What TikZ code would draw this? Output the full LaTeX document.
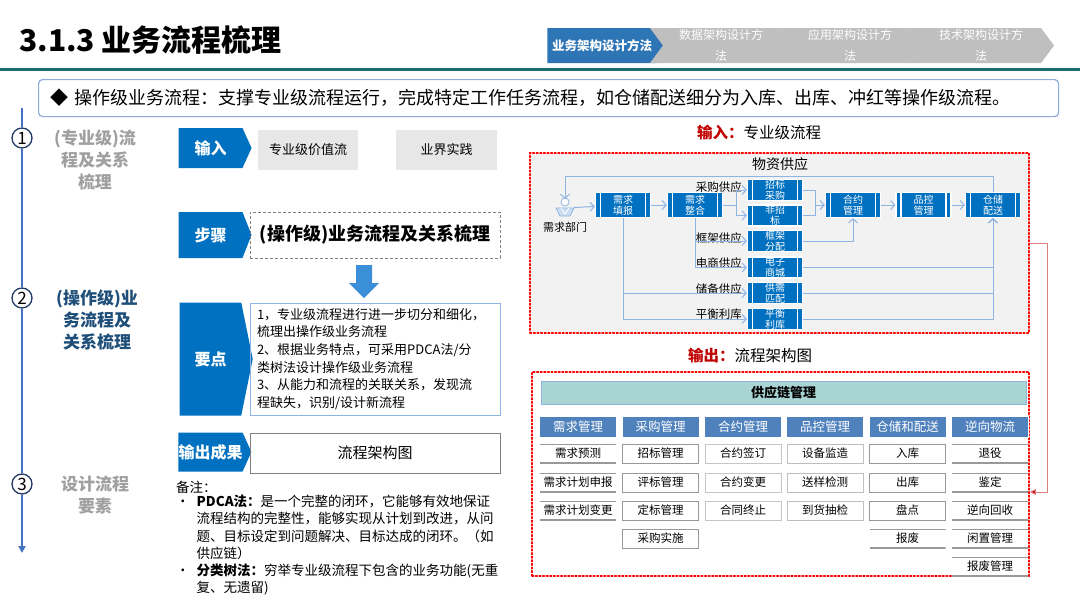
\documentclass[tikz,border=0pt]{standalone}
\usepackage{fontspec}
\setmainfont{Noto Sans CJK SC}
\usepackage{xcolor}
\definecolor{hdblue}{RGB}{46,117,182}
\definecolor{tabgray}{RGB}{191,191,191}
\definecolor{pgteal}{RGB}{30,110,105}
\definecolor{tagblue}{RGB}{0,112,192}
\definecolor{lineblue}{RGB}{68,114,196}
\definecolor{darknavy}{RGB}{32,56,100}
\definecolor{flowblue}{RGB}{143,180,227}
\definecolor{boxgray}{RGB}{231,231,231}
\definecolor{panelgray}{RGB}{242,242,242}
\definecolor{colblue}{RGB}{79,129,189}
\definecolor{barteal}{RGB}{168,212,212}
\definecolor{dotred}{RGB}{255,0,0}
\definecolor{textred}{RGB}{192,0,0}
\definecolor{labgray}{RGB}{160,160,160}
\definecolor{labblue}{RGB}{31,78,121}
\definecolor{infoblue}{RGB}{143,170,220}
\definecolor{arrblue}{RGB}{58,143,216}
\usepackage{tikz}
\usetikzlibrary{arrows.meta, positioning, shapes.symbols, calc}

\newcommand{\setfs}[2]{\fontsize{#1}{#2}\selectfont}

\tikzset{
  flow/.style={draw=flowblue, line width=1pt, -{Straight Barb[length=4pt,width=9pt]}},
  flowline/.style={draw=flowblue, line width=1pt},
  procbox/.style={fill=tagblue, draw=white, line width=1.5pt, minimum width=55, minimum height=21,
    inner sep=0, text=white, font=\setfs{10}{11}, align=center,
    path picture={\draw[white, line width=1.2pt]
      ([xshift=5pt]path picture bounding box.north west) -- ([xshift=5pt]path picture bounding box.south west)
      ([xshift=-5pt]path picture bounding box.north east) -- ([xshift=-5pt]path picture bounding box.south east);}},
  flowlab/.style={anchor=east, inner sep=0, font=\setfs{11.5}{12}},
  tag/.style={signal, signal to=east, fill=tagblue, text=white, font=\setfs{16}{18}\bfseries,
    minimum width=73, inner sep=0},
  tab/.style={signal, signal to=east, minimum height=35, inner sep=0, text=white, align=center,
    signal pointer angle=107},
  redbox/.style={draw=dotred, dotted, line width=1.6pt, line cap=round, inner sep=0},
  colhead/.style={fill=colblue, draw=white, minimum width=77, minimum height=21, inner sep=0,
    text=white, font=\setfs{12.5}{13}},
  itembox/.style={draw=gray!80, fill=white, line width=0.9pt, minimum width=76, minimum height=19,
    inner sep=0, font=\setfs{11.5}{12}},
  itemline/.style={minimum width=76, minimum height=19, inner sep=0, font=\setfs{11.5}{12},
    path picture={\draw[gray!80, line width=2pt]
      (path picture bounding box.north west) -- (path picture bounding box.north east)
      (path picture bounding box.south west) -- (path picture bounding box.south east);}},
  steplab/.style={align=center, font=\setfs{17}{22}\bfseries},
  numc/.style={circle, draw=darknavy, fill=white, line width=1.3pt, minimum size=20, inner sep=0,
    font=\setfs{17}{17}}
}

\begin{document}
\begin{tikzpicture}[x=1pt, y=-1pt]
  \useasboundingbox (0,0) rectangle (1080,608);

  % --- Header ---
  \node[anchor=west, inner sep=0, font=\setfs{30}{32}\bfseries] (title) at (19,40) {3.1.3 业务流程梳理};
  \node[tab, fill=hdblue, minimum width=122, font=\setfs{12.5}{13}\bfseries] (tab1) at (602,45.5) {业务架构设计方法};
  \node[tab, signal from=west, fill=tabgray, minimum width=142, font=\setfs{12}{21}] (tab2) at (721,45.5) {数据架构设计方\\法};
  \node[tab, signal from=west, fill=tabgray, minimum width=142, font=\setfs{12}{21}] (tab3) at (850,45.5) {应用架构设计方\\法};
  \node[tab, signal from=west, fill=tabgray, minimum width=146, font=\setfs{12}{21}] (tab4) at (981,45.5) {技术架构设计方\\法};
  \draw[pgteal, line width=3pt] (0,69.5) -- (1080,69.5);

  % info banner
  \node[draw=infoblue, line width=1.2pt, rounded corners=4pt, anchor=north west, minimum width=1020,
    minimum height=37, text width=996, inner xsep=12, align=left, font=\setfs{18}{20}] (info) at (38,79)
    {◆ 操作级业务流程：支撑专业级流程运行，完成特定工作任务流程，如仓储配送细分为入库、出库、冲红等操作级流程。};

  % --- Left timeline ---
  \coordinate (tlbot) at (22,553);
  \node[numc] (n1) at (22,138) {1};
  \node[numc] (n2) at (22,298) {2};
  \node[numc] (n3) at (22,484) {3};
  \draw[lineblue, line width=1.8pt] (22,108) -- (n1);
  \draw[lineblue, line width=1.8pt] (n1) -- (n2);
  \draw[lineblue, line width=1.8pt] (n2) -- (n3);
  \draw[lineblue, line width=1.8pt, -{Triangle[length=7pt,width=7pt]}] (n3) -- (tlbot);
  \node[steplab, labgray] (s1) at (95,160) {(专业级)流\\程及关系\\梳理};
  \node[steplab, labblue] (s2) at (97,320) {(操作级)业\\务流程及\\关系梳理};
  \node[steplab, labgray] (s3) at (95,495) {设计流程\\要素};

  % --- Middle column ---
  \node[tag, minimum height=40, signal pointer angle=131] (in) at (210.5,148) {输入};
  \node[fill=boxgray, minimum width=100, minimum height=40, inner sep=0, font=\setfs{13}{14}] (val) at (308,150) {专业级价值流};
  \node[fill=boxgray, minimum width=101, minimum height=40, inner sep=0, font=\setfs{13}{14}] (prac) at (446.5,150) {业界实践};

  \node[tag, minimum height=46, signal pointer angle=137] (step) at (210.5,235) {步骤};
  \node[draw=gray, densely dashed, minimum width=250, minimum height=46, inner sep=0,
    font=\setfs{18}{20}\bfseries] (stepbox) at (375,235) {(操作级)业务流程及关系梳理};
  \fill[arrblue] (356,265) -- (372,265) -- (372,283) -- (379,283) -- (364,298) -- (349,283) -- (356,283) -- cycle;

  \node[tag, minimum height=113, signal pointer angle=157] (key) at (210.5,359) {要点};
  \node[draw=flowblue, line width=1pt, minimum width=250, minimum height=112, text width=236,
    inner xsep=7, align=left, font=\setfs{13}{17.6}] (keybox) at (375,359)
    {1，专业级流程进行进一步切分和细化，\\梳理出操作级业务流程\\2、根据业务特点，可采用PDCA法/分\\类树法设计操作级业务流程\\3、从能力和流程的关联关系，发现流\\程缺失，识别/设计新流程};

  \node[tag, minimum height=39, signal pointer angle=131] (out) at (210.5,452) {输出成果};
  \node[draw=gray, line width=0.9pt, minimum width=250, minimum height=40, inner sep=0,
    font=\setfs{15}{16}] (outbox) at (375,453) {流程架构图};

  \node[anchor=north west, inner sep=0, align=left, font=\setfs{13.5}{17.2}] (note) at (176,481)
    {备注：\\
     \begin{tabular}{@{}l@{\hspace{7pt}}l@{}}
     • & \textbf{PDCA法：}是一个完整的闭环，它能够有效地保证\\
       & 流程结构的完整性，能够实现从计划到改进，从问\\
       & 题、目标设定到问题解决、目标达成的闭环。（如\\
       & 供应链）\\
     • & \textbf{分类树法：}穷举专业级流程下包含的业务功能(无重\\
       & 复、无遗留)
     \end{tabular}};

  % --- Right top: input process ---
  \node[font=\setfs{15.5}{17}] (intitle) at (759,133) {\textcolor{textred}{\bfseries 输入：}专业级流程};
  \node[redbox, fill=panelgray, minimum width=499, minimum height=180] (inpanel) at (779.5,243) {};
  \node[font=\setfs{14}{15}] (supply) at (780,164) {物资供应};

  % demand dept icon
  \node[minimum size=18, inner sep=0] (dept) at (565,208) {};
  \draw[flowblue, fill=white, line width=0.8pt] ($(dept.center)+(0,-6)$) circle (4);
  \draw[flowblue, fill=flowblue!45, line width=0.8pt] ($(dept.center)+(-9,0)$) -- ($(dept.center)+(9,0)$)
    -- ($(dept.center)+(5,8)$) -- ($(dept.center)+(-5,8)$) -- cycle;
  \draw[white, line width=0.8pt] ($(dept.center)+(-4,0)$) -- ($(dept.center)+(0,6)$) -- ($(dept.center)+(4,0)$);
  \node[font=\setfs{11}{12}, inner sep=0] (deptlab) at (565,227) {需求部门};

  \node[procbox, minimum height=25] (fill) at (623,205) {需求\\填报};
  \node[procbox, minimum height=25] (merge) at (695,205) {需求\\整合};
  \node[procbox] (zbcg) at (775,190) {招标\\采购};
  \node[procbox] (fzb) at (775,215.5) {非招\\标};
  \node[procbox] (kjfp) at (775,241) {框架\\分配};
  \node[procbox] (dzsc) at (775,267.5) {电子\\商城};
  \node[procbox] (gxpp) at (775,293) {供需\\匹配};
  \node[procbox] (phlk) at (775,319) {平衡\\利库};
  \node[procbox, minimum height=25] (hygl) at (853,205) {合约\\管理};
  \node[procbox, minimum height=25] (pkgl) at (923.5,205) {品控\\管理};
  \node[procbox, minimum height=25] (ccps) at (993,205) {仓储\\配送};

  \node[flowlab] (l1) at (742,187) {采购供应};
  \node[flowlab] (l2) at (742,238) {框架供应};
  \node[flowlab] (l3) at (742,263) {电商供应};
  \node[flowlab] (l4) at (742,289) {储备供应};
  \node[flowlab] (l5) at (742,314) {平衡利库};

  % connectors
  \draw[flow] (dept) -- (fill);
  \draw[flow] (fill) -- (merge);
  \draw[flowline] (merge.east) -- ++(13,0) coordinate (m1);
  \draw[flow] (m1) |- (zbcg);
  \draw[flow] (m1) |- (fzb);
  \draw[flow] (merge.south) |- (kjfp);
  \draw[flow] (merge.south) |- (dzsc);
  \draw[flow] (fill.south) |- (gxpp);
  \draw[flow] (fill.south) |- (phlk);
  \draw[flowline] (zbcg.east) -- ++(12,0) coordinate (j1) -- (j1 |- fzb) -- (fzb.east);
  \draw[flow] (j1 |- hygl) -- (hygl);
  \draw[flow] (kjfp.east) -| (hygl.south);
  \draw[flow] (hygl) -- (pkgl);
  \draw[flow] (pkgl) -- (ccps);
  \draw[flow] (dzsc.east) -| (ccps.south);
  \draw[flow] (gxpp.east) -| (ccps.south);
  \draw[flow] (phlk.east) -| (ccps.south);
  \coordinate (loop) at (565,176);
  \draw[flow] (ccps.north) |- (loop) -- (dept.north);

  % --- Right bottom: output architecture ---
  \node[font=\setfs{15.5}{17}] (outtitle) at (750,356) {\textcolor{textred}{\bfseries 输出：}流程架构图};
  \node[redbox, minimum width=497, minimum height=204] (outpanel) at (780.5,474) {};
  \draw[draw=textred!50, line width=1pt, -{Triangle[length=6pt,width=6pt,fill=textred]}]
    (inpanel.east) -- ++(18,0) |- ($(outpanel.east)+(0,18)$);

  \node[fill=barteal, draw=flowblue, line width=1pt, minimum width=485, minimum height=23, inner sep=0,
    font=\setfs{13}{14}\bfseries] (scm) at (783.5,392.5) {供应链管理};

  \node[colhead] (c1) at (578,426.5) {需求管理};
  \node[colhead] (c2) at (660.5,426.5) {采购管理};
  \node[colhead] (c3) at (743,426.5) {合约管理};
  \node[colhead] (c4) at (825,426.5) {品控管理};
  \node[colhead] (c5) at (907.5,426.5) {仓储和配送};
  \node[colhead] (c6) at (990,426.5) {逆向物流};

  % column items
  \node[itemline] (a1) at (578,453.5) {需求预测};
  \node[itemline] (a2) at (578,482.5) {需求计划申报};
  \node[itemline] (a3) at (578,510.5) {需求计划变更};

  \node[itembox] (b1) at (660.5,453.5) {招标管理};
  \node[itembox] (b2) at (660.5,482.5) {评标管理};
  \node[itembox] (b3) at (660.5,510.5) {定标管理};
  \node[itembox] (b4) at (660.5,538.5) {采购实施};

  \node[itembox, draw=gray!45] (d1) at (743,453.5) {合约签订};
  \node[itembox, draw=gray!45] (d2) at (743,482.5) {合约变更};
  \node[itembox, draw=gray!45] (d3) at (743,510.5) {合同终止};

  \node[itembox, draw=gray!50] (e1) at (825,453.5) {设备监造};
  \node[itembox, draw=gray!50] (e2) at (825,482.5) {送样检测};
  \node[itembox, draw=gray!50] (e3) at (825,510.5) {到货抽检};

  \node[itembox] (f1) at (907.5,453.5) {入库};
  \node[itembox] (f2) at (907.5,482.5) {出库};
  \node[itembox] (f3) at (907.5,510.5) {盘点};
  \node[itemline] (f4) at (907.5,538.5) {报废};

  \node[itemline] (g1) at (990,453.5) {退役};
  \node[itemline] (g2) at (990,482.5) {鉴定};
  \node[itemline] (g3) at (990,510.5) {逆向回收};
  \node[itemline] (g4) at (990,538.5) {闲置管理};
  \node[itemline] (g5) at (990,566.5) {报废管理};
\end{tikzpicture}
\end{document}
